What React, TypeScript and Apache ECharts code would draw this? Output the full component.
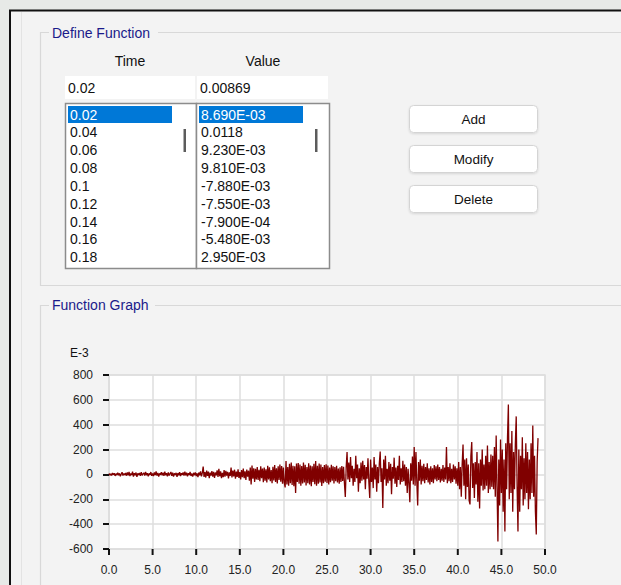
import React, { useEffect, useRef } from "react";
import * as echarts from "echarts";

// ---- data ----
const listTimes = ["0.02", "0.04", "0.06", "0.08", "0.1", "0.12", "0.14", "0.16", "0.18"];
const listValues = ["8.690E-03", "0.0118", "9.230E-03", "9.810E-03", "-7.880E-03", "-7.550E-03", "-7.900E-04", "-5.480E-03", "2.950E-03"];
const inputTime = "0.02";
const inputValue = "0.00869";
const buttonLabels = ["Add", "Modify", "Delete"];

const traceStart = 0.2;
const traceStep = 0.1;
const traceValues = [
  5, -8, 12, -3, 10, -12, 6, -5,
  14, -6, 9, -15, 4, 18, -9, 7, -4, 11,
  -10, 16, -7, 20, -14, 8, -5, 22, -18, 10,
  -6, 15, -20, 9, -4, 12, -12, 18, -8, 5,
  13, -9, 21, -6, 10, -16, 8, -3, 19, -11,
  7, -14, 16, -5, 24, -10, 12, -18, 9, -4,
  18, -8, 14, -12, 22, -6, 10, -15, 17, -9,
  6, 20, -11, 15, -17, 8, -4, 13, -20, 11,
  -7, 19, -13, 9, -3, 16, -10, 22, -8, 14,
  -16, 10, -5, 21, -12, 7, -18, 13, -6, 17,
  -14, 9, -22, 15, -8, 25, -15, 12, 64, -20,
  18, -25, 30, -12, 22, -30, 14, -10, 26, -18,
  20, -28, 15, -8, 32, -20, 45, -15, 24, -30,
  12, -22, 35, -18, 28, -10, 20, -32, 16, -12,
  55, -25, 30, -15, 38, -35, 22, -20, 42, -28,
  18, -40, 35, -22, 48, -30, 25, -45, 40, -18,
  30, -50, 55, -80, 72, -35, 50, -60, 45, -40,
  60, -45, 38, -55, 65, -30, 48, -62, 55, -50,
  42, -65, 70, -40, 58, -55, 35, -70, 62, -48,
  75, -60, 50, -72, 65, -45, 80, -58, 68, -75,
  55, -68, -105, 107, -80, 60, -90, 85, -70, 95,
  -85, 70, -95, 65, -150, 88, -60, 92, -75, 80,
  -90, 68, -72, 95, -65, 78, -88, 60, -70, 90,
  -80, 72, -95, 65, -60, 85, -78, 107, -90, 70,
  -75, 88, -65, 80, -92, 60, -70, 75, -58, 82,
  -68, 72, -80, 55, -62, 78, -50, 65, -72, 60,
  -55, 70, -65, 48, -75, 58, -60, 68, -52, 62,
  -70, -182, 60, 180, -40, 95, -60, 140, -30, 70,
  -90, 45, -60, 150, -30, 80, -140, 50, -70, 95,
  -50, 110, -40, 75, -120, 60, -35, 130, -60, -190,
  120, -60, 55, -110, 140, -40, 80, -140, 60, -70,
  90, 185, -60, 50, -271, 120, -40, 150, -90, 45,
  -70, 100, -50, 85, -160, 60, -35, 135, -75, 55,
  -100, 70, -45, 150, -80, 50, -60, 110, -55, 80,
  -90, 60, -150, 45, -70, -223, 90, -50, 145, -80,
  220, -90, 180, -60, -250, 100, -50, 120, -80, 70,
  -55, 85, -70, 60, -45, 90, -65, 50, -80, 65,
  -60, 50, -70, 75, -40, 65, -55, 80, -45, 60,
  -65, 45, -50, 75, -60, 55, -40, 220, -70, 60,
  -55, 90, -70, 45, -60, 80, -40, 65, -75, 50,
  -90, 100, -120, 60, -180, 80, 241, -90, 120, -200,
  130, -100, 80, -210, -241, 150, 260, -110, 90, -190,
  100, -80, 180, -220, 90, -274, 120, -90, 200, -130,
  80, -120, 150, -90, 233, -150, 100, -120, 160, -100,
  150, -120, 220, -180, 314, -100, -539, 120, -250, 280,
  -150, 200, -300, 120, -459, 250, -120, 300, 563, -200,
  250, -150, 350, -300, 180, -120, 250, 467, -100, -459,
  200, -300, 150, -120, 300, -250, 130, -200, 250, -150,
  180, -280, 120, -200, 250, -150, 394, -180, 150, -300,
  -483, 100, 292,
];

const xMin = 0, xMax = 50, xInterval = 5;
const yMin = -600, yMax = 800, yInterval = 200;
const xTickValues = [0, 5, 10, 15, 20, 25, 30, 35, 40, 45, 50];
const yUnitLabel = "E-3";

const FONT = "Liberation Sans";
const NAVY = "#1a1a8a";
const GRIDC = "#dedede";

export default function App() {
  const ref = useRef<HTMLDivElement>(null);

  useEffect(() => {
    if (!ref.current) return;
    const chart = echarts.init(ref.current, undefined, { renderer: "svg" });

    const data: number[][] = listTimes.map((t, i) => [parseFloat(t), parseFloat(listValues[i]) * 1000]);
    traceValues.forEach((v, i) => {
      data.push([Math.round((traceStart + i * traceStep) * 100) / 100, v]);
    });

    const txt = (text: string, x: number, y: number, opts: any = {}) => ({
      type: "text",
      x,
      y,
      silent: true,
      style: {
        text,
        fill: opts.fill || "#111",
        fontSize: opts.fontSize || 14,
        fontFamily: FONT,
        align: opts.align || "left",
        verticalAlign: "middle",
        textAlign: opts.align || "left",
        textVerticalAlign: "middle",
      },
      z: 10,
    });
    const line = (pts: number[][], stroke: string, lw = 1) => ({
      type: "polyline",
      silent: true,
      shape: { points: pts },
      style: { stroke, lineWidth: lw, fill: null },
      z: 5,
    });
    const rect = (x: number, y: number, w: number, h: number, style: any, r = 0) => ({
      type: "rect",
      silent: true,
      shape: { x, y, width: w, height: h, r },
      style,
      z: 4,
    });

    const rowStep = 17.85;
    const graphics: any[] = [
      rect(0, 0, 621, 10, { fill: "#e7eae7" }),
      rect(0, 0, 9, 585, { fill: "#e7eae7" }),
      line([[9, 10.5], [621, 10.5]], "#111", 2),
      line([[10, 10], [10, 585]], "#111", 2),
      line([[21.5, 12], [21.5, 585]], "#e3e3e3", 1),
      // group box 1
      line([[49, 32.5], [40.5, 32.5], [40.5, 285.5], [621, 285.5]], "#d8d8d8", 1.2),
      line([[158, 32.5], [621, 32.5]], "#d8d8d8", 1.2),
      txt("Define Function", 52, 33, { fill: NAVY }),
      // group box 2
      line([[40.5, 585], [40.5, 305.5], [49, 305.5]], "#d8d8d8", 1.2),
      line([[155, 305.5], [621, 305.5]], "#d8d8d8", 1.2),
      txt("Function Graph", 52, 305, { fill: NAVY }),
      // column headers
      txt("Time", 130, 61, { align: "center" }),
      txt("Value", 263, 61, { align: "center" }),
      // input boxes
      rect(65, 76, 130, 23, { fill: "#fff" }),
      rect(197, 76, 131, 23, { fill: "#fff" }),
      txt(inputTime, 68, 88),
      txt(inputValue, 200, 88),
      // list boxes
      rect(65.5, 103.5, 131, 165, { fill: "#fff", stroke: "#8c8c8c", lineWidth: 1.5 }),
      rect(196.5, 103.5, 133, 165, { fill: "#fff", stroke: "#8c8c8c", lineWidth: 1.5 }),
      rect(68, 106, 104, 17, { fill: "#0078d7" }),
      rect(199, 106, 104, 17, { fill: "#0078d7" }),
      rect(183.5, 129, 2.5, 23, { fill: "#5c5c5c" }),
      rect(315, 129, 2.5, 23, { fill: "#5c5c5c" }),
      // y unit
      txt(yUnitLabel, 70, 353, { fontSize: 12 }),
    ];
    listTimes.forEach((t, i) => {
      graphics.push(txt(t, 70, 114.5 + i * rowStep, { fill: i === 0 ? "#fff" : "#111" }));
    });
    listValues.forEach((v, i) => {
      graphics.push(txt(v, 201, 114.5 + i * rowStep, { fill: i === 0 ? "#fff" : "#111" }));
    });
    buttonLabels.forEach((b, i) => {
      const y = 105 + i * 40;
      graphics.push(rect(409.5, y + 0.5, 128, 27, { fill: "#fff", stroke: "#d4d4d4", lineWidth: 1, shadowBlur: 2, shadowColor: "rgba(0,0,0,0.12)", shadowOffsetY: 1 }, 4));
      graphics.push(txt(b, 473.5, y + 14, { align: "center", fontSize: 13.5 }));
    });

    chart.setOption({
      animation: false,
      backgroundColor: "#f3f3f3",
      textStyle: { fontFamily: FONT },
      graphic: { elements: graphics },
      grid: {
        left: 109,
        top: 375,
        right: 76,
        bottom: 36,
        show: true,
        backgroundColor: "#fff",
        borderColor: GRIDC,
        borderWidth: 1.5,
      },
      xAxis: {
        type: "value",
        min: xMin,
        max: xMax,
        interval: xInterval,
        axisLine: { show: true, onZero: false, lineStyle: { color: GRIDC, width: 1.5 } },
        axisTick: { show: false },
        splitLine: { show: true, lineStyle: { color: GRIDC, width: 1.5 } },
        axisLabel: { formatter: (v: number) => v.toFixed(1), fontSize: 12, color: "#222", margin: 15, fontFamily: FONT },
      },
      yAxis: {
        type: "value",
        min: yMin,
        max: yMax,
        interval: yInterval,
        axisLine: { show: true, onZero: false, lineStyle: { color: GRIDC, width: 1.5 } },
        axisTick: { show: true, length: 6, lineStyle: { color: "#111", width: 2 } },
        splitLine: { show: true, lineStyle: { color: GRIDC, width: 1.5 } },
        axisLabel: { fontSize: 12, color: "#222", margin: 16, fontFamily: FONT },
      },
      series: [
        {
          type: "line",
          data,
          symbol: "none",
          lineStyle: { color: "#800000", width: 1.3 },
          itemStyle: { color: "#800000" },
          z: 3,
        },
        {
          // x-axis tick marks below the plot, placed through the axis scale
          type: "custom",
          clip: false,
          silent: true,
          z: 4,
          data: xTickValues.map((v) => [v, yMin]),
          renderItem: (params: any, api: any) => {
            const p = api.coord([api.value(0), api.value(1)]);
            return {
              type: "line",
              shape: { x1: p[0], y1: p[1], x2: p[0], y2: p[1] + 6 },
              style: { stroke: "#111", lineWidth: 2 },
            };
          },
        },
      ],
    });

    return () => chart.dispose();
  }, []);

  return (
    <div
      ref={ref}
      style={{ position: "fixed", left: 0, top: 0, width: 621, height: 585 }}
    />
  );
}
